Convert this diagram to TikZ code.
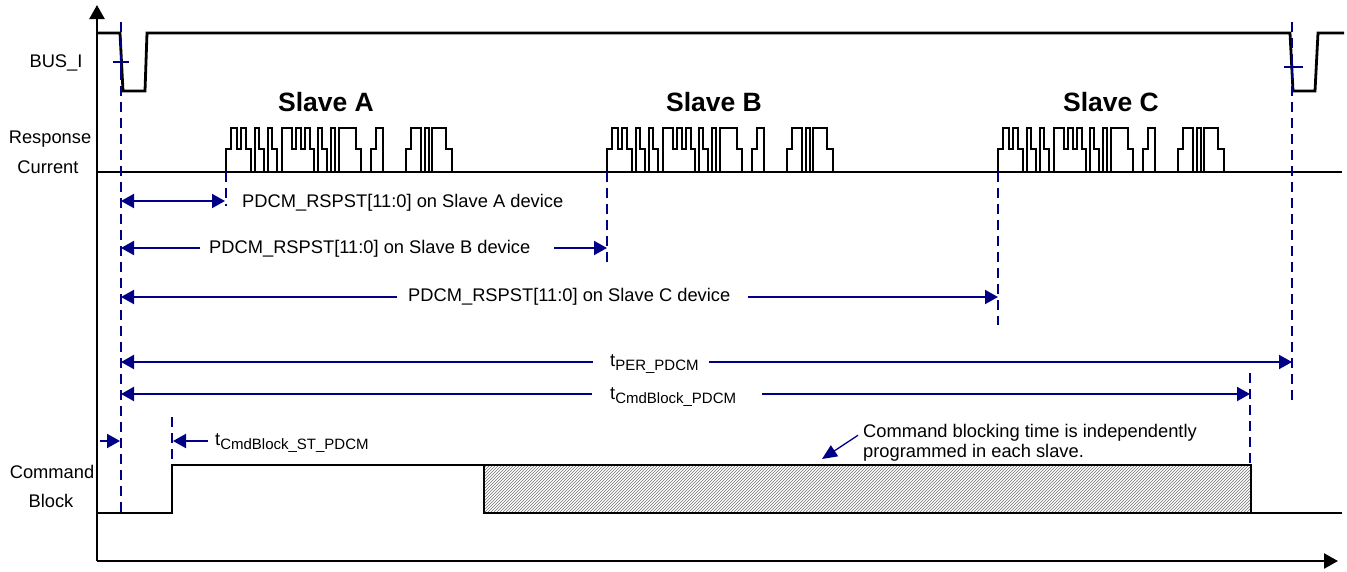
\documentclass[tikz,border=0pt]{standalone}
\usepackage{fontspec}
\setmainfont{Liberation Sans}
\usetikzlibrary{arrows.meta,patterns,calc}
\definecolor{navyb}{RGB}{0,0,135}
\newcommand{\tsb}[1]{t\raisebox{-4pt}{\fontsize{15}{15}\selectfont #1}}
\newcommand{\pulselist}{0/149,5/128,11/149,15/128,20/149,25/172,29/128,33/149,38/172,42/128,46/149,51/172,56/128,66/149,70/128,75/149,79/128,84/149,88/172,92/128,96/149,101/172,105/128,109/172,113/128,130/149,135/172,145/149,150/128,157/172,180/149,185/128,195/172,199/128,203/172,206/128,220/149,226/172}
\begin{document}
\begin{tikzpicture}[x=1pt,y=-1pt,
  >={Triangle[length=13pt,width=14pt]},
  sig/.style={line width=2.8pt},
  pulse/.style={line width=2.2pt},
  axline/.style={line width=2.4pt,-{Triangle[length=14pt,width=15pt]}},
  guide/.style={navyb, line width=2pt, dash pattern=on 10pt off 6pt},
  barrow/.style={navyb, line width=2pt},
  lbl/.style={font=\fontsize{18.3}{20}\selectfont, inner sep=0pt},
  slave/.style={font=\fontsize{26.5}{28}\selectfont\bfseries, inner sep=0pt},
]
\useasboundingbox (0,0) rectangle (1347,571);

% axes
\coordinate (org) at (97,561);
\coordinate (ytop) at (97,5);
\coordinate (xend) at (1338,561);
\draw[axline] (org) -- (ytop);
\draw[axline] (org) -- (xend);

% left labels
\node[lbl,anchor=base] (lbus) at (56,67) {BUS\_I};
\node[lbl,anchor=base] (lresp) at (50,143) {Response};
\node[lbl,anchor=base] (lcur) at (48,173) {Current};
\node[lbl,anchor=base] (lcmd) at (52,478) {Command};
\node[lbl,anchor=base] (lblk) at (51,507) {Block};

% BUS_I
\draw[sig] (97,33) -- (120,33) -- (123,91) -- (145,91) -- (147,33) -- (1290,33)
  -- (1293,91) -- (1315,91) -- (1318,33) -- (1344,33);

% response current
\draw[pulse] (97,172) -- (1342,172);
\foreach \xs in {226,607,998} {
  \draw[pulse] (\xs-10,172) \foreach \dd/\lv in \pulselist { -| (\xs+\dd,\lv) } -- (\xs+240,172);
}
\node[slave,anchor=base] (sA) at (326,111) {Slave A};
\node[slave,anchor=base] (sB) at (714,111) {Slave B};
\node[slave,anchor=base] (sC) at (1111,111) {Slave C};

% guides
\draw[guide] (121,22) coordinate (g0t) -- (121,515) coordinate (g0b);
\draw[guide] (1292,22) coordinate (gPt) -- (1292,400) coordinate (gPb);
\draw[guide] (226,172) coordinate (gAt) -- (226,206) coordinate (gAb);
\draw[guide] (607,172) coordinate (gBt) -- (607,263) coordinate (gBb);
\draw[guide] (998,172) coordinate (gCt) -- (998,325) coordinate (gCb);
\draw[guide] (1250,373) coordinate (gEt) -- (1250,465) coordinate (gEb);
\draw[guide] (172,417) coordinate (gSt) -- (172,513) coordinate (gSb);

% plus marks
\draw[barrow] (113,62) -- (129,62) (121,55) -- (121,70);
\draw[barrow] (1284,67) -- (1303,67) (1292,60) -- (1292,75);

% arrow 1
\coordinate (a1L) at (121,201);
\coordinate (a1R) at (225,201);
\draw[barrow,<->] (a1L) -- (a1R);
\node[lbl,anchor=base west] (l1) at (242,207) {PDCM\_RSPST[11:0] on Slave A device};

% arrow 2
\coordinate (a2L) at (121,248);
\coordinate (a2R) at (607,248);
\node[lbl,anchor=base west] (l2) at (209,253) {PDCM\_RSPST[11:0] on Slave B device};
\draw[barrow,->] ($(l2.west|-a2L)+(-9,0)$) -- (a2L);
\draw[barrow,->] ($(l2.east|-a2R)+(24,0)$) -- (a2R);

% arrow 3
\coordinate (a3L) at (121,297);
\coordinate (a3R) at (998,297);
\node[lbl,anchor=base west] (l3) at (408,301) {PDCM\_RSPST[11:0] on Slave C device};
\draw[barrow,->] ($(l3.west|-a3L)+(-11,0)$) -- (a3L);
\draw[barrow,->] ($(l3.east|-a3R)+(18,0)$) -- (a3R);

% arrow 4
\coordinate (a4L) at (121,362);
\coordinate (a4R) at (1292,362);
\node[lbl,anchor=base west] (l4) at (610,366) {\tsb{PER\_PDCM}};
\draw[barrow,->] ($(l4.west|-a4L)+(-17,0)$) -- (a4L);
\draw[barrow,->] ($(l4.east|-a4R)+(10,0)$) -- (a4R);

% arrow 5
\coordinate (a5L) at (121,394);
\coordinate (a5R) at (1250,394);
\node[lbl,anchor=base west] (l5) at (610,399) {\tsb{CmdBlock\_PDCM}};
\draw[barrow,->] ($(l5.west|-a5L)+(-18,0)$) -- (a5L);
\draw[barrow,->] ($(l5.east|-a5R)+(26,0)$) -- (a5R);

% arrow 6
\coordinate (a6o) at (100,441);
\coordinate (a6L) at (120,441);
\coordinate (a6R) at (173,441);
\node[lbl,anchor=base west] (l6) at (215,445) {\tsb{CmdBlock\_ST\_PDCM}};
\draw[barrow,->] (a6o) -- (a6L);
\draw[barrow,->] ($(l6.west|-a6R)+(-7,0)$) -- (a6R);

% command block
\fill[pattern=north east lines, pattern color=black!55] (484,465) rectangle (1251,513);
\draw[sig] (97,513) -- (172,513) -- (172,465) -- (1251,465) -- (1251,513) -- (1342,513);
\draw[sig] (484,465) -- (484,513) -- (1251,513);

% annotation
\node[lbl,anchor=base west] (n1) at (863,437) {Command blocking time is independently};
\node[lbl,anchor=base west] (n2) at (863,457) {programmed in each slave.};
\coordinate (annS) at ($(n1.west)+(-5,3)$);
\coordinate (annT) at (822,459);
\draw[navyb,line width=1.3pt,-{Triangle[length=15pt,width=13pt]}] (annS) -- (annT);
\end{tikzpicture}
\end{document}
